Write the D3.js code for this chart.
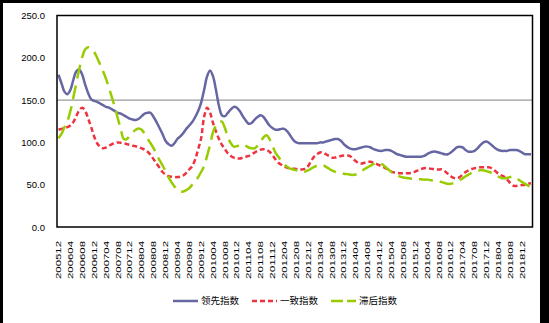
<!DOCTYPE html>
<html><head><meta charset="utf-8">
<script src="https://cdn.jsdelivr.net/npm/d3@7"></script>
<style>html,body{margin:0;padding:0;background:#fff;}svg{display:block;}</style>
</head><body>
<svg id="chart" width="549" height="323"></svg>
<script>
// ---- data ----
const startYear = 2005, startMonth = 12, nMonths = 160;
const seriesNames = ["领先指数", "一致指数", "滞后指数"];
const yTicks = [0, 50, 100, 150, 200, 250];
const leading = [
180,170,160,157,162,174,184,186,180,168,158,151,
149,148,146,144,142,141,139,137,135,134,132,130,
128,127,126.5,128,131,134,135,135,130,124,117,110,
102,98,96,99,104,107,111,116,120,124,130,137,
147,162,178,185,178,162,143,132,131,135,139,142,
141,137,131,126,122,123,127,130,132,130,125,120,
117,115,115,116,116,113,108,103,100,99,99,99,
99,99,99,99,100,100,101,102,103,104,104,102,
98,95,93,92,92,93,94,95,95,94,92,91,
90,90,91,91,90,88,86,85,84,83,83,83,
83,83,83,84,86,88,89,89,88,87,86,86,
88,91,94,95,94,91,89,89,90,93,97,100,
101,99,96,93,91,90,90,90,91,91,91,90,
88,86,86,86];
const coincident = [
115,116,117,118,120,124,131,138,141,137,128,118,
107,99,95,93,94,96,98,99,100,99.5,99,98,
97,96,95.5,94.5,93,91.5,89,85,80,75,70,65,
62,60,59.5,59,59,59.5,61,64,68,72,80,92,
105,130,141,135,123,113,104,97,92,87,84,82,
81,81,82,83,84,86,88,90,91.5,92,91,89,
85,80,76,73.5,71.5,70,69.5,69,68.5,68,68,69,
72,78,83,86,88,88,86,84,82,82,83,84,
84.5,84.5,84,81,78,75.5,75,76,77,77,76,74.5,
73,71.5,69.5,67.5,65.5,64.5,64,63.5,63.5,63.5,63.5,64,
65.5,67,68.5,69.5,69.5,69,68.5,68,68,68,66,63,
60,58,57.5,59,62,65,67,68.5,69.5,70,70.5,70.5,
70.5,70.5,69,66,63,61,59.5,56,52,49,48.5,49,
49.5,50,51,51.6];
const lagging = [
105,110,118,125,137,153,170,187,201,210,212.5,211,
207,200,192,184,175,164,153,141,128,115,104,104,
108,112,115,116.5,115,110,104,99,93,86,79,73,
66,59,53,48,44,42,42,43.5,46,50,54,59,
65,72,84,97,112,120,124,124.5,117,106,99,95,
95.5,97,98,96,94,93,93,96,101,106,108.5,104,
96,88,83,78,74,71,69,68,67,66,65,65.5,
67,69,71,72.5,73,73,71,69,67,65.5,64.5,64,
63,62.5,62,61.5,62,63.5,66,68.5,70.5,72.5,74.5,76,
75.5,74,71,68,65,63,61,59.5,58.5,58,57.5,57,
57,56.5,56.5,56,56,55.5,55,54.5,54,53,52,51,
51,52,53.5,55.5,57.5,60,62,64,65.5,66.5,67,67,
66,65,63.5,61.5,59.5,58,57.5,58,59,59.5,58,55.5,
53,51,49,47.5];
// monthly category labels YYYYMM
const months = [];
for (let i = 0; i < nMonths; i++) {
  const m0 = startMonth - 1 + i;
  const y = startYear + Math.floor(m0 / 12), m = (m0 % 12) + 1;
  months.push(String(y) + String(m).padStart(2, "0"));
}
const shownLabels = months.filter((d, i) => i % 4 === 0 && i <= 156);

// ---- drawing ----
const svg = d3.select("#chart");
const W = 549, H = 323;
const plot = {left: 57, right: 532.5, top: 15.5, bottom: 227};

// outer dark frame
svg.append("rect").attr("x", 0).attr("y", 0).attr("width", W).attr("height", 3).attr("fill", "#000");
svg.append("rect").attr("x", 0).attr("y", 0).attr("width", 3).attr("height", H).attr("fill", "#000");
svg.append("rect").attr("x", 540).attr("y", 0).attr("width", W - 540).attr("height", H).attr("fill", "#000");

const x = d3.scaleBand().domain(months).range([plot.left, plot.right]);
const xc = d => x(d) + x.bandwidth() / 2;
const y = d3.scaleLinear().domain([0, 250]).range([plot.bottom, plot.top]);

// gridline at 150
svg.append("line").attr("x1", plot.left).attr("x2", plot.right)
  .attr("y1", y(150)).attr("y2", y(150)).attr("stroke", "#808080").attr("stroke-width", 1);

// y axis labels
const yAxis = d3.axisLeft(y).tickValues(yTicks).tickFormat(d3.format(".1f")).tickSize(0).tickPadding(12);
const gy = svg.append("g").attr("transform", `translate(${plot.left},0)`).call(yAxis);
gy.select(".domain").remove();
gy.selectAll("text").attr("font-family", "Liberation Sans, Arial, sans-serif").attr("font-size", 9.5).attr("fill", "#000");

// x axis labels (rotated)
const xAxis = d3.axisBottom(x).tickValues(shownLabels).tickSize(0).tickPadding(0);
const gx = svg.append("g").attr("transform", `translate(0,${plot.bottom})`).call(xAxis);
gx.select(".domain").remove();
gx.selectAll("text")
  .attr("font-family", "Liberation Sans, Arial, sans-serif").attr("font-size", 7.5).attr("fill", "#000")
  .attr("transform", "rotate(-90)").attr("text-anchor", "end")
  .attr("x", -14).attr("y", 0).attr("dy", "0.35em")
  .attr("textLength", 38).attr("lengthAdjust", "spacingAndGlyphs");

// lines
const styles = [
  {data: leading, color: "#6666a3", dash: null, w: 2.5},
  {data: coincident, color: "#ee3340", dash: "5,3", w: 2.5},
  {data: lagging, color: "#99cc00", dash: "14,7", w: 2.5}
];
const line = d3.line().x((d, i) => xc(months[i])).y(d => y(d)).curve(d3.curveCatmullRom.alpha(0.5));
styles.forEach(s => {
  svg.append("path").datum(s.data).attr("d", line).attr("fill", "none")
    .attr("stroke", s.color).attr("stroke-width", s.w)
    .attr("stroke-dasharray", s.dash);
});

// plot frame
svg.append("rect").attr("x", plot.left).attr("y", plot.top)
  .attr("width", plot.right - plot.left).attr("height", plot.bottom - plot.top)
  .attr("fill", "none").attr("stroke", "#000").attr("stroke-width", 1.5);

// legend
const legX = [173, 252, 331];
const lg = svg.append("g");
seriesNames.forEach((name, i) => {
  const s = styles[i];
  lg.append("line").attr("x1", legX[i]).attr("x2", legX[i] + 25).attr("y1", 301).attr("y2", 301)
    .attr("stroke", s.color).attr("stroke-width", 2.5).attr("stroke-dasharray", s.dash ? (i === 1 ? "5,3" : "12,4") : null);
  lg.append("text").attr("x", legX[i] + 28).attr("y", 301).attr("dy", "0.35em")
    .attr("font-family", "Noto Sans CJK SC, sans-serif").attr("font-size", 9.5).attr("fill", "#000")
    .text(name);
});
</script>
</body></html>
